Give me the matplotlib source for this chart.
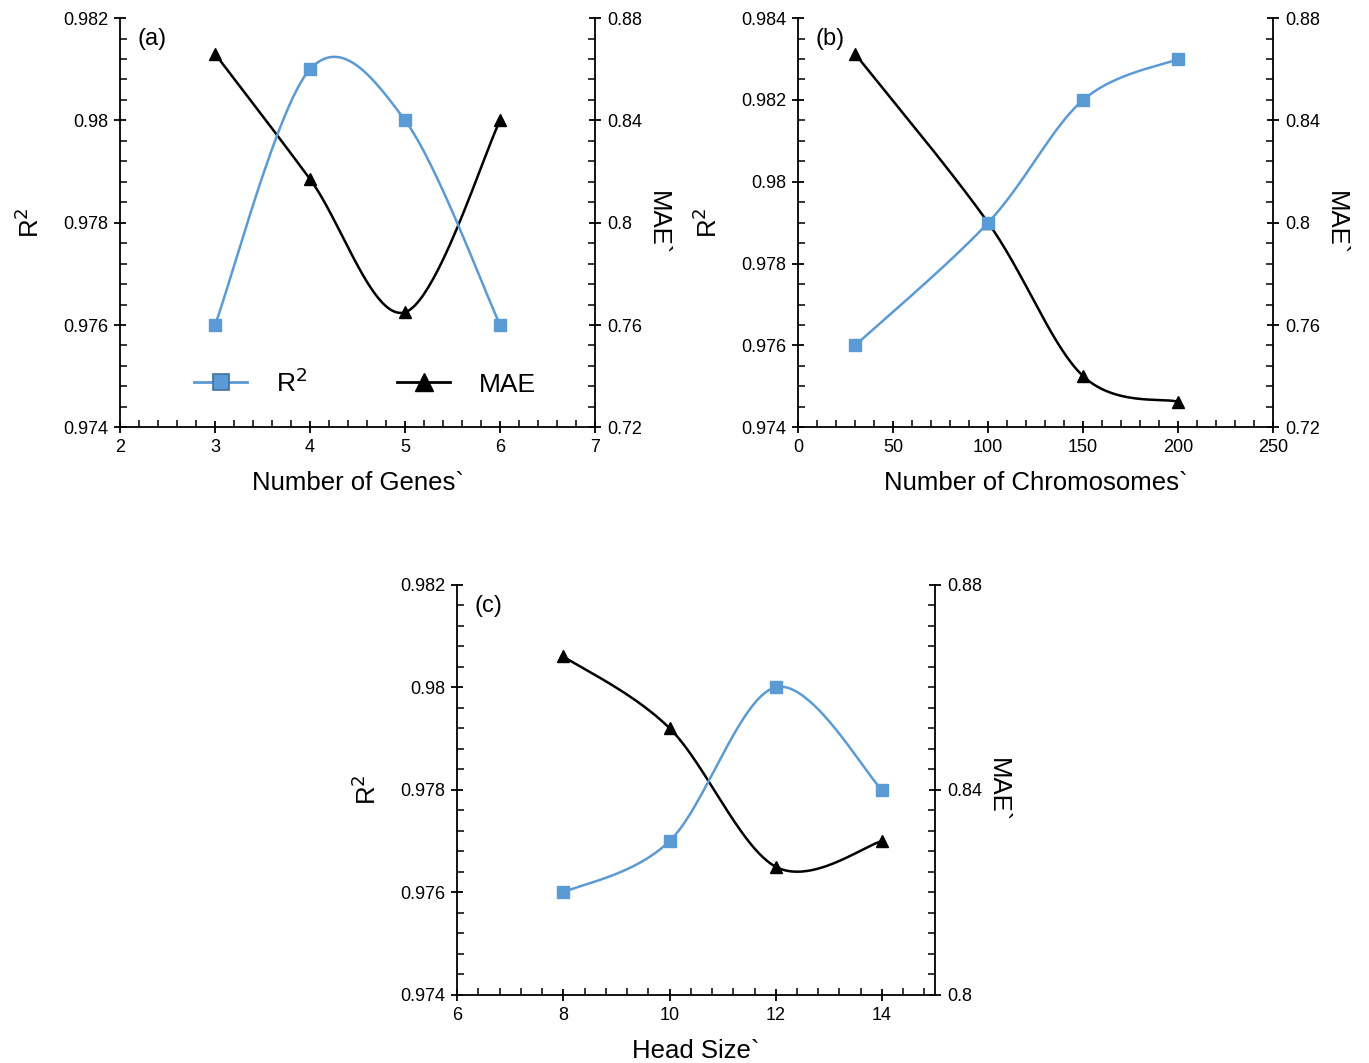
import numpy as np
import matplotlib
matplotlib.use("Agg")
import matplotlib.pyplot as plt
from matplotlib.ticker import MultipleLocator
from matplotlib.lines import Line2D

plt.rcParams['font.family'] = ['Liberation Sans', 'DejaVu Sans']

BLUE = '#5b9bd5'
BLUE_EDGE = '#41719c'

# (a) number of genes
genes = [3, 4, 5, 6]
genes_r2 = [0.976, 0.981, 0.980, 0.976]
genes_mae = [0.866, 0.817, 0.765, 0.840]

# (b) number of chromosomes
chroms = [30, 100, 150, 200]
chroms_r2 = [0.976, 0.979, 0.982, 0.983]
chroms_mae = [0.866, 0.800, 0.740, 0.730]

# (c) head size
heads = [8, 10, 12, 14]
heads_r2 = [0.976, 0.977, 0.980, 0.978]
heads_mae = [0.866, 0.852, 0.825, 0.830]


def smooth(x, y, n=50):
    # excel-style smoothed line: cubic bezier with catmull-rom control points
    p = np.column_stack([x, y]).astype(float)
    ext = np.vstack([p[0], p, p[-1]])
    t = np.linspace(0, 1, n)[:, None]
    out = []
    for i in range(len(p) - 1):
        b0 = ext[i + 1]
        b3 = ext[i + 2]
        b1 = b0 + (ext[i + 2] - ext[i]) / 6
        b2 = b3 - (ext[i + 3] - ext[i + 1]) / 6
        seg = ((1 - t) ** 3) * b0 + 3 * ((1 - t) ** 2) * t * b1 + 3 * (1 - t) * t ** 2 * b2 + t ** 3 * b3
        out.append(seg if i == 0 else seg[1:])
    out = np.vstack(out)
    return out[:, 0], out[:, 1]


def style_ticks(ax):
    ax.tick_params(which='major', direction='inout', length=9, width=1.3, labelsize=13, pad=4)
    ax.tick_params(which='minor', direction='in', length=5, width=1.1)


def panel(rect, tag, x, r2, mae, xlim, xmaj, xmin, ylim, ymaj, ymin, y2lim, y2maj, y2min, xlabel):
    ax = fig.add_axes(rect)
    ax2 = ax.twinx()
    for a in (ax, ax2):
        for s in a.spines.values():
            s.set_linewidth(1.3)
        a.spines['top'].set_visible(False)
    ax.spines['right'].set_visible(False)
    ax2.spines['left'].set_visible(False)
    ax2.spines['bottom'].set_visible(False)

    sx, sy = smooth(x, r2)
    ax.plot(sx, sy, color=BLUE, lw=1.8, zorder=3)
    ax.plot(x, r2, ls='none', marker='s', ms=8, color=BLUE, mec=BLUE, zorder=4)
    sx, sy = smooth(x, mae)
    ax2.plot(sx, sy, color='black', lw=1.8, zorder=3)
    ax2.plot(x, mae, ls='none', marker='^', ms=8, color='black', zorder=4)

    ax.set_xlim(*xlim)
    ax.set_ylim(*ylim)
    ax2.set_ylim(*y2lim)
    ax.xaxis.set_major_locator(MultipleLocator(xmaj))
    ax.xaxis.set_minor_locator(MultipleLocator(xmin))
    ax.yaxis.set_major_locator(MultipleLocator(ymaj))
    ax.yaxis.set_minor_locator(MultipleLocator(ymin))
    ax2.yaxis.set_major_locator(MultipleLocator(y2maj))
    ax2.yaxis.set_minor_locator(MultipleLocator(y2min))
    ax.yaxis.set_major_formatter(lambda v, p: f'{v:.3f}'.rstrip('0'))
    ax2.yaxis.set_major_formatter(lambda v, p: f'{v:.2f}'.rstrip('0').rstrip('.'))
    ax.xaxis.set_major_formatter(lambda v, p: f'{v:g}')
    style_ticks(ax)
    style_ticks(ax2)

    ax.set_xlabel(xlabel, fontsize=18.5, labelpad=11)
    ax.set_ylabel('R$^2$', fontsize=18.5, labelpad=14)
    ax2.set_ylabel('MAE`', fontsize=18.5, rotation=-90, labelpad=20)
    ax.text(0.037, 0.975, tag, transform=ax.transAxes, fontsize=17, va='top', ha='left')
    ax.set_zorder(ax2.get_zorder() + 1)
    ax.patch.set_visible(False)
    return ax, ax2


fig = plt.figure(figsize=(13.69, 10.63), dpi=100)

ax_a, _ = panel([0.0877, 0.598, 0.347, 0.385], '(a)', genes, genes_r2, genes_mae,
                (2, 7), 1, 0.2, (0.974, 0.982), 0.002, 0.0004,
                (0.72, 0.88), 0.04, 0.008, 'Number of Genes`')

panel([0.583, 0.598, 0.347, 0.385], '(b)', chroms, chroms_r2, chroms_mae,
      (0, 250), 50, 10, (0.974, 0.984), 0.002, 0.0005,
      (0.72, 0.88), 0.04, 0.008, 'Number of Chromosomes`')

panel([0.334, 0.064, 0.349, 0.386], '(c)', heads, heads_r2, heads_mae,
      (6, 15), 2, 0.4, (0.974, 0.982), 0.002, 0.0004,
      (0.80, 0.88), 0.04, 0.004, 'Head Size`')

handles = [
    Line2D([], [], color=BLUE, lw=2, marker='s', ms=12, mfc=BLUE, mec=BLUE_EDGE, mew=1.2),
    Line2D([], [], color='black', lw=2, marker='^', ms=13, mfc='black'),
]
ax_a.legend(handles, ['R$^2$', 'MAE'], loc='center', bbox_to_anchor=(0.516, 0.11),
            ncol=2, frameon=False, fontsize=19, handlelength=2.0, columnspacing=3.4,
            handletextpad=1.1)

fig.savefig('out.png', dpi=100)
